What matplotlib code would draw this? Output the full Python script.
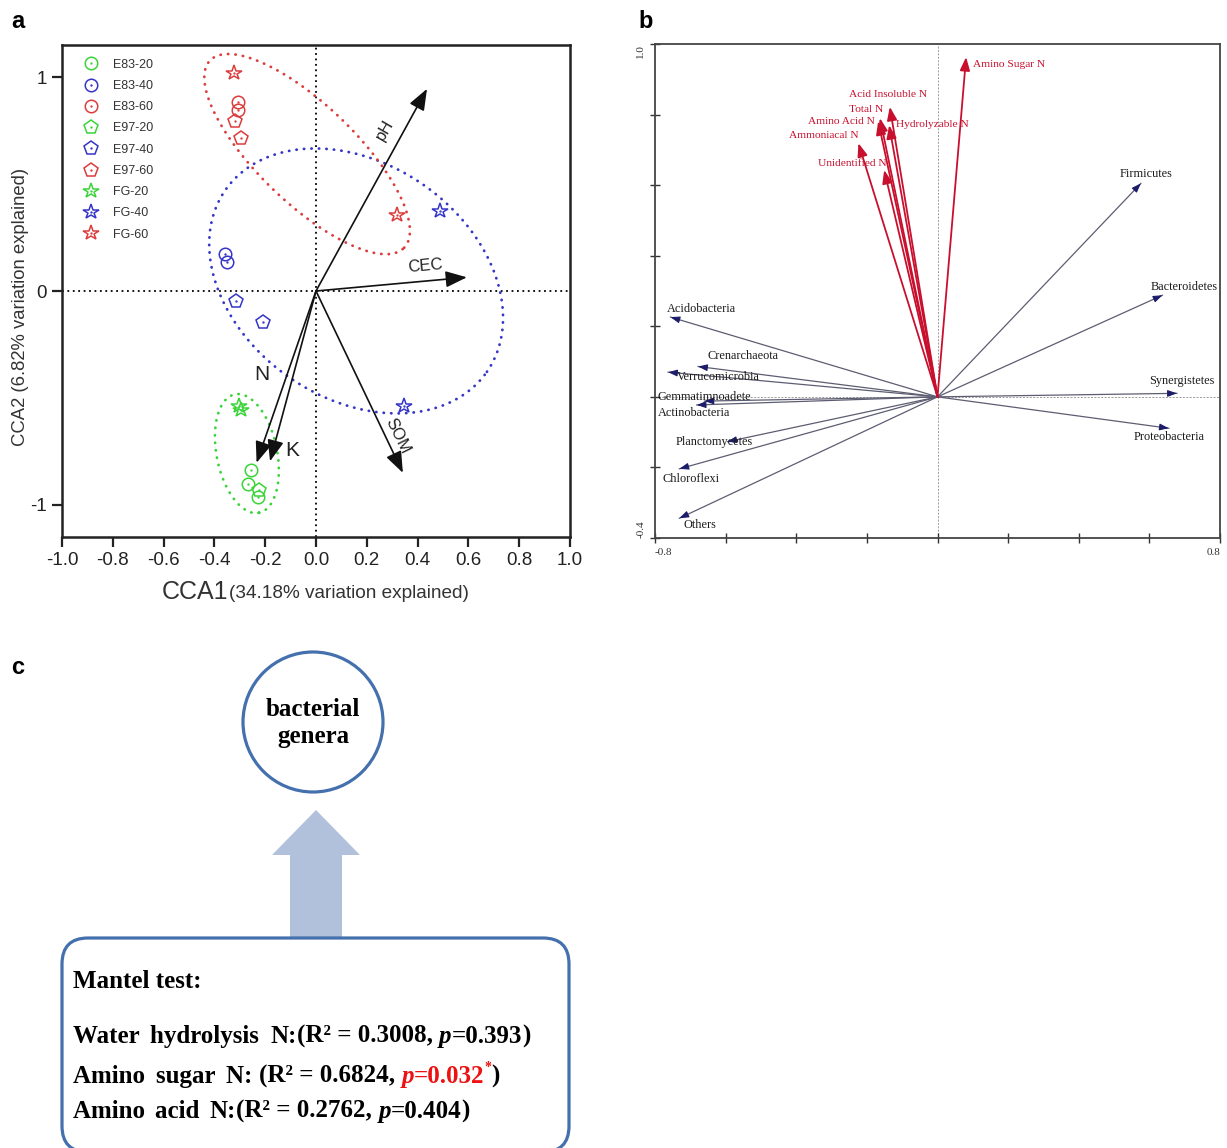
import numpy as np
import matplotlib
matplotlib.use("Agg")
import matplotlib.pyplot as plt
from matplotlib.lines import Line2D
from matplotlib.patches import Circle, FancyArrow, FancyBboxPatch

W, H = 1227, 1148
DPI = 100

# ---------------- Panel a data ----------------
groups = ['E83-20', 'E83-40', 'E83-60', 'E97-20', 'E97-40', 'E97-60', 'FG-20', 'FG-40', 'FG-60']
group_x = [[-0.255, -0.268, -0.229], [-0.359, -0.350], [-0.308, -0.306],
           [-0.226], [-0.315, -0.209], [-0.320, -0.296],
           [-0.302, -0.295], [0.489, 0.347], [-0.322, 0.320]]
group_y = [[-0.838, -0.900, -0.962], [0.172, 0.134], [0.882, 0.844],
           [-0.931], [-0.047, -0.145], [0.797, 0.716],
           [-0.536, -0.555], [0.373, -0.536], [1.020, 0.354]]

env_names = ['pH', 'CEC', 'SOM', 'N', 'K']
env_x = [0.437, 0.594, 0.342, -0.234, -0.181]
env_y = [0.945, 0.064, -0.850, -0.803, -0.796]

# confidence ellipses (depth 20 / 40 / 60): centre, semi-axes (x units), angle
ell_names = ['20', '40', '60']
ell_cx = [-0.272, 0.158, -0.035]
ell_cy = [-0.760, 0.047, 0.640]
ell_a = [0.238, 0.627, 0.531]
ell_b = [0.119, 0.462, 0.193]
ell_ang = [-78.5, -34.8, -44.0]

x_ticks_a = [-1.0, -0.8, -0.6, -0.4, -0.2, 0.0, 0.2, 0.4, 0.6, 0.8, 1.0]
x_ticklabels_a = ['-1.0', '-0.8', '-0.6', '-0.4', '-0.2', '0.0', '0.2', '0.4', '0.6', '0.8', '1.0']
y_ticks_a = [-1, 0, 1]
y_ticklabels_a = ['-1', '0', '1']

# ---------------- Panel b data ----------------
n_names = ['Amino Sugar N', 'Acid Insoluble N', 'Total N', 'Hydrolyzable N',
           'Amino Acid N', 'Ammoniacal N', 'Unidentified N']
n_x = [0.081, -0.135, -0.163, -0.137, -0.168, -0.224, -0.151]
n_y = [0.963, 0.822, 0.790, 0.770, 0.781, 0.719, 0.643]

bac_names = ['Firmicutes', 'Bacteroidetes', 'Synergistetes', 'Proteobacteria',
             'Acidobacteria', 'Crenarchaeota', 'Verrucomicrobia', 'Gemmatimnoadete',
             'Actinobacteria', 'Planctomycetes', 'Chloroflexi', 'Others']
bac_x = [0.576, 0.637, 0.678, 0.655, -0.756, -0.678, -0.763, -0.660,
         -0.682, -0.595, -0.731, -0.731]
bac_y = [0.605, 0.288, 0.010, -0.089, 0.226, 0.086, 0.070, -0.012,
         -0.023, -0.127, -0.204, -0.344]

# ---------------- Panel c data ----------------
mantel_vars = ['Water hydrolysis N:', 'Amino sugar N: ', 'Amino acid N:']
mantel_r2 = ['0.3008', '0.6824', '0.2762']
mantel_p = ['0.393', '0.032', '0.404']
mantel_sig = [False, True, False]

# ---------------- styles / layout ----------------
SANS = ['Liberation Sans', 'DejaVu Sans']
SERIF = ['Liberation Serif', 'DejaVu Serif']
green, blue, red = '#3ad43a', '#3535c8', '#dd3c3c'
grp_colors = [green, blue, red] * 3
grp_markers = ['o'] * 3 + ['p'] * 3 + ['*'] * 3
grp_ms = [9] * 3 + [10] * 3 + [11.5] * 3
ell_colors = [green, blue, red]

env_lab_x = [0.272, 0.430, 0.323, -0.213, -0.092]
env_lab_y = [0.751, 0.117, -0.680, -0.392, -0.746]
env_lab_rot = [60, 5, -64, 0, 0]

n_lab_x = [0.100, -0.140, -0.155, -0.118, -0.177, -0.222, -0.143]
n_lab_y = [0.941, 0.856, 0.813, 0.771, 0.779, 0.742, 0.660]
n_lab_ha = ['left', 'center', 'right', 'left', 'right', 'right', 'right']

bac_lab_x = [0.591, 0.698, 0.693, 0.656, -0.766, -0.650, -0.738, -0.793,
             -0.793, -0.741, -0.778, -0.718]
bac_lab_y = [0.632, 0.312, 0.045, -0.113, 0.249, 0.116, 0.057, 0.000,
             -0.045, -0.128, -0.232, -0.363]
bac_lab_ha = ['center'] * 4 + ['left'] * 8

fig = plt.figure(figsize=(W / DPI, H / DPI), dpi=DPI)
fig.patch.set_facecolor('white')

# =============== Panel a ===============
axA = fig.add_axes([62 / W, 1 - 537 / H, 508 / W, 492 / H])
axA.set_xlim(-1.0, 1.0)
axA.set_ylim(-1.15, 1.15)
axA.axhline(0, color='k', ls=(0, (1, 2)), lw=1.3, zorder=1)
axA.axvline(0, color='k', ls=(0, (1, 2)), lw=1.3, zorder=1)

sx = 508 / 2.0
sy = 492 / 2.3
k = sx / sy
t = np.linspace(0, 2 * np.pi, 500)
for cx, cy, a, b, ang, c in zip(ell_cx, ell_cy, ell_a, ell_b, ell_ang, ell_colors):
    th = np.deg2rad(ang)
    u = a * np.cos(t)
    v = b * np.sin(t)
    dx = u * np.cos(th) - v * np.sin(th)
    dy = (u * np.sin(th) + v * np.cos(th)) * k
    axA.plot(cx + dx, cy + dy, color=c, lw=2.0, ls=(0, (0.1, 2.6)),
             dash_capstyle='round', zorder=2)

handles = []
for gx, gy, c, m, ms, lab in zip(group_x, group_y, grp_colors, grp_markers, grp_ms, groups):
    axA.plot(gx, gy, ls='none', marker=m, ms=ms, mfc='none', mec=c, mew=1.1, zorder=4)
    axA.plot(gx, gy, ls='none', marker='.', ms=1.4, color=c, zorder=4)
    h1 = Line2D([], [], ls='none', marker=m, ms=ms, mfc='none', mec=c, mew=1.1)
    h2 = Line2D([], [], ls='none', marker='.', ms=1.4, color=c)
    handles.append((h1, h2))

for ex, ey in zip(env_x, env_y):
    axA.annotate('', xy=(ex, ey), xytext=(0, 0),
                 arrowprops=dict(arrowstyle='-|>,head_length=1.3,head_width=0.5',
                                 color='#111111', lw=1.2, shrinkA=0, shrinkB=0,
                                 mutation_scale=10), zorder=5)
for name, lx, ly, rot in zip(env_names, env_lab_x, env_lab_y, env_lab_rot):
    fs = 15 if name in ('N', 'K') else 12
    axA.text(lx, ly, name, rotation=rot, ha='center', va='center',
             fontsize=fs, family=SANS, color='#222222', zorder=6)

leg = axA.legend(handles, groups, loc='upper left', bbox_to_anchor=(0.025, 0.99),
                 frameon=False, prop={'family': SANS, 'size': 9},
                 labelspacing=0.74, handletextpad=1.2, handlelength=1.2,
                 borderaxespad=0.3)
for txt in leg.get_texts():
    txt.set_color('#333333')

axA.set_xticks(x_ticks_a)
axA.set_xticklabels(x_ticklabels_a)
axA.set_yticks(y_ticks_a)
axA.set_yticklabels(y_ticklabels_a)
axA.tick_params(direction='out', length=7, width=1.6, labelsize=13.5, pad=4,
                colors='#222222')
for lbl in axA.get_xticklabels() + axA.get_yticklabels():
    lbl.set_family(SANS)
for sp in axA.spines.values():
    sp.set_linewidth(1.8)
    sp.set_color('#222222')

# =============== Panel b ===============
axB = fig.add_axes([655 / W, 1 - 538 / H, 565 / W, 494 / H])
axB.set_xlim(-0.8, 0.8)
axB.set_ylim(-0.4, 1.0)
axB.axhline(0, color='#9a9a9a', ls=(0, (2, 1.5)), lw=0.7, zorder=1)
axB.axvline(0, color='#9a9a9a', ls=(0, (2, 1.5)), lw=0.7, zorder=1)

navy = '#1c1c6a'
for bx, by in zip(bac_x, bac_y):
    axB.plot([0, bx], [0, by], color='#5d5d72', lw=0.9, zorder=2)
    axB.annotate('', xy=(bx, by), xytext=(bx * 0.985, by * 0.985),
                 arrowprops=dict(arrowstyle='-|>,head_length=0.55,head_width=0.2',
                                 color=navy, lw=0.8, shrinkA=0, shrinkB=0,
                                 mutation_scale=10), zorder=3)
for name, lx, ly, ha in zip(bac_names, bac_lab_x, bac_lab_y, bac_lab_ha):
    axB.text(lx, ly, name, ha=ha, va='center', fontsize=8.8, family=SERIF,
             color='#1a1a1a', zorder=4)

crim = '#c8102e'
for nx, ny in zip(n_x, n_y):
    axB.annotate('', xy=(nx, ny), xytext=(0, 0),
                 arrowprops=dict(arrowstyle='-|>,head_length=0.8,head_width=0.3',
                                 color=crim, lw=1.3, shrinkA=0, shrinkB=0,
                                 mutation_scale=10), zorder=5)
for name, lx, ly, ha in zip(n_names, n_lab_x, n_lab_y, n_lab_ha):
    axB.text(lx, ly, name, ha=ha, va='center', fontsize=8.2, family=SERIF,
             color=crim, zorder=6)

xt = np.round(np.arange(-0.8, 0.81, 0.2), 1)
axB.set_xticks(xt)
axB.set_xticklabels(['-0.8'] + [''] * (len(xt) - 2) + ['0.8'])
yt = np.round(np.arange(-0.4, 1.01, 0.2), 1)
axB.set_yticks(yt)
axB.set_yticklabels(['-0.4'] + [''] * (len(yt) - 2) + ['1.0'])
axB.tick_params(direction='inout', length=7, width=1.0, labelsize=8, colors='#333333')
xl = axB.get_xticklabels()
xl[0].set_ha('left')
xl[-1].set_ha('right')
yl = axB.get_yticklabels()
for lbl in yl:
    lbl.set_rotation(90)
yl[0].set_va('bottom')
yl[-1].set_va('top')
for lbl in xl + yl:
    lbl.set_family(SERIF)
for sp in axB.spines.values():
    sp.set_linewidth(1.3)
    sp.set_color('#444444')

# =============== overlay: panel letters, axis titles, panel c ===============
axC = fig.add_axes([0, 0, 1, 1], zorder=-1)
axC.set_xlim(0, W)
axC.set_ylim(H, 0)
axC.axis('off')

for letter, px, py in zip(['a', 'b', 'c'], [18, 646, 18], [22, 22, 668]):
    axC.text(px, py, letter, fontsize=17, fontweight='bold', family=SANS,
             ha='center', va='center')

fig.canvas.draw()
renderer = fig.canvas.get_renderer()

# panel a axis titles
axC.text(228, 592, 'CCA1', fontsize=18, family=SANS, color='#333333',
         ha='right', va='center')
axC.text(229, 594, '(34.18% variation explained)', fontsize=13.7, family=SANS,
         color='#333333', ha='left', va='center')
axC.text(21, 307, 'CCA2 (6.82% variation explained)', fontsize=13.3, family=SANS,
         color='#333333', ha='center', va='center', rotation=90)

edge = '#4470ad'
axC.add_patch(FancyArrow(316, 938, 0, -128, width=52, head_width=88, head_length=45,
                         length_includes_head=True, color='#b1c1dc', lw=0, zorder=1))
axC.add_patch(Circle((313, 722), 70, fc='white', ec=edge, lw=2.3, zorder=2))
axC.text(313, 723, 'bacterial\ngenera', fontsize=18, fontweight='bold', family=SERIF,
         ha='center', va='center', linespacing=1.2, zorder=3)
axC.add_patch(FancyBboxPatch((62, 938), 507, 214,
                             boxstyle='round,pad=0,rounding_size=26',
                             fc='white', ec=edge, lw=2.3, zorder=2, clip_on=False))

FS = 18
axC.text(73, 988, 'Mantel test:', fontsize=FS, fontweight='bold', family=SERIF,
         ha='left', va='baseline', zorder=3)


def run(x, y, txt, color='black', style='normal', size=FS, dy=0):
    tt = axC.text(x, y + dy, txt, fontsize=size, fontweight='bold', fontstyle=style,
                  family=SERIF, color=color, ha='left', va='baseline', zorder=3)
    bb = tt.get_window_extent(renderer)
    return x + bb.width


word_gap = [5, 5, 4]
for i, (var, r2, p, sig) in enumerate(zip(mantel_vars, mantel_r2, mantel_p, mantel_sig)):
    y = [1043, 1083, 1118][i]
    x = 73
    words = var.rstrip().split(' ')
    for j, wd in enumerate(words):
        last = j == len(words) - 1
        if not last:
            x = run(x, y, wd + ' ') + word_gap[i]
        else:
            x = run(x, y, wd + (' ' if var.endswith(' ') else ''))
    x = run(x, y, '(R\u00b2 = ' + r2 + ', ')
    pc = '#ee1111' if sig else 'black'
    x = run(x, y, 'p', color=pc, style='italic')
    x = run(x, y, '=' + p, color=pc)
    if sig:
        x = run(x, y, '*', color=pc, size=10, dy=-12)
    x = run(x, y, ')')

fig.savefig('out.png', dpi=DPI, facecolor='white')
